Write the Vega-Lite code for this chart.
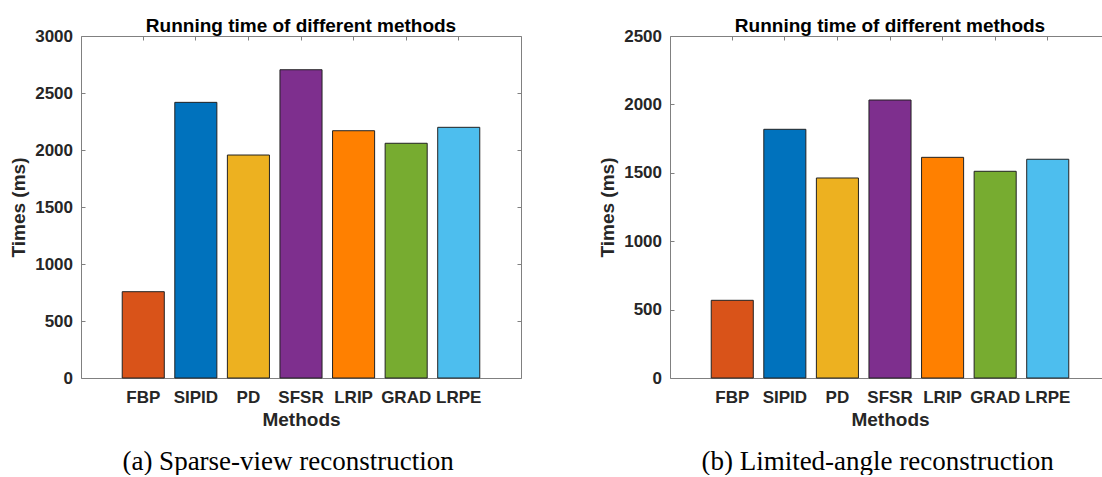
{
  "$schema": "https://vega.github.io/schema/vega-lite/v6.json",
  "padding": {"left": 9, "top": 17, "right": 0, "bottom": 0},
  "spacing": 76,
  "config": {
    "view": {"stroke": null},
    "axis": {
      "labelFont": "Liberation Sans", "labelFontSize": 17, "labelFontWeight": "bold", "labelColor": "#262626",
      "titleFont": "Liberation Sans", "titleFontSize": 19, "titleFontWeight": "bold", "titleColor": "#262626",
      "domainColor": "#808080", "tickColor": "#808080", "grid": false, "tickSize": -4
    },
    "title": {"font": "Liberation Sans", "fontSize": 19, "fontWeight": "bold", "color": "#000000"}
  },
  "hconcat": [
    {
      "title": {"text": "(a) Sparse-view reconstruction", "orient": "bottom", "anchor": "middle", "frame": "bounds", "font": "Liberation Serif", "fontSize": 27, "fontWeight": "normal", "color": "#000000", "offset": 20, "dx": 22.5},
      "vconcat": [
        {
          "width": 440, "height": 342,
          "title": {"text": "Running time of different methods", "offset": -9, "anchor": "middle", "frame": "group"},
          "data": {"values": [
            {"method": "FBP", "time": 757},
            {"method": "SIPID", "time": 2418},
            {"method": "PD", "time": 1956},
            {"method": "SFSR", "time": 2704},
            {"method": "LRIP", "time": 2169},
            {"method": "GRAD", "time": 2059},
            {"method": "LRPE", "time": 2199}
          ]},
          "layer": [
            {
              "mark": {"type": "bar", "stroke": "#222222", "strokeWidth": 1},
              "encoding": {
                "x": {"field": "method", "type": "nominal", "sort": null, "scale": {"paddingInner": 0.2, "paddingOuter": 0.784},
                      "axis": {"orient": "bottom", "title": "Methods", "labelAngle": 0, "labelPadding": 15.5, "titlePadding": 4.5}},
                "y": {"field": "time", "type": "quantitative", "scale": {"domain": [0, 3000], "nice": false},
                      "axis": {"orient": "left", "title": "Times (ms)", "format": "d", "values": [0, 500, 1000, 1500, 2000, 2500, 3000], "labelPadding": 12.5, "titlePadding": 6}},
                "color": {"field": "method", "type": "nominal", "legend": null,
                          "scale": {"domain": ["FBP", "SIPID", "PD", "SFSR", "LRIP", "GRAD", "LRPE"],
                                    "range": ["#D95319", "#0072BD", "#EDB120", "#7E2F8E", "#FF8000", "#77AC30", "#4DBEEE"]}}
              }
            },
            {
              "mark": {"type": "bar", "opacity": 0},
              "encoding": {
                "x": {"field": "method", "type": "nominal", "sort": null, "axis": {"orient": "top", "title": null, "labels": false}},
                "y": {"field": "time", "type": "quantitative", "axis": {"orient": "right", "title": null, "labels": false, "values": [0, 500, 1000, 1500, 2000, 2500, 3000]}}
              }
            }
          ],
          "resolve": {"axis": {"x": "independent", "y": "independent"}}
        }
      ]
    },
    {
      "title": {"text": "(b) Limited-angle reconstruction", "orient": "bottom", "anchor": "middle", "frame": "bounds", "font": "Liberation Serif", "fontSize": 27, "fontWeight": "normal", "color": "#000000", "offset": 20, "dx": 23},
      "vconcat": [
        {
          "width": 440, "height": 342,
          "title": {"text": "Running time of different methods", "offset": -9, "anchor": "middle", "frame": "group"},
          "data": {"values": [
            {"method": "FBP", "time": 568},
            {"method": "SIPID", "time": 1818},
            {"method": "PD", "time": 1462},
            {"method": "SFSR", "time": 2032},
            {"method": "LRIP", "time": 1613},
            {"method": "GRAD", "time": 1511},
            {"method": "LRPE", "time": 1599}
          ]},
          "layer": [
            {
              "mark": {"type": "bar", "stroke": "#222222", "strokeWidth": 1},
              "encoding": {
                "x": {"field": "method", "type": "nominal", "sort": null, "scale": {"paddingInner": 0.2, "paddingOuter": 0.784},
                      "axis": {"orient": "bottom", "title": "Methods", "labelAngle": 0, "labelPadding": 15.5, "titlePadding": 4.5}},
                "y": {"field": "time", "type": "quantitative", "scale": {"domain": [0, 2500], "nice": false},
                      "axis": {"orient": "left", "title": "Times (ms)", "format": "d", "values": [0, 500, 1000, 1500, 2000, 2500], "labelPadding": 12.5, "titlePadding": 6}},
                "color": {"field": "method", "type": "nominal", "legend": null,
                          "scale": {"domain": ["FBP", "SIPID", "PD", "SFSR", "LRIP", "GRAD", "LRPE"],
                                    "range": ["#D95319", "#0072BD", "#EDB120", "#7E2F8E", "#FF8000", "#77AC30", "#4DBEEE"]}}
              }
            },
            {
              "mark": {"type": "bar", "opacity": 0},
              "encoding": {
                "x": {"field": "method", "type": "nominal", "sort": null, "axis": {"orient": "top", "title": null, "labels": false}},
                "y": {"field": "time", "type": "quantitative", "axis": {"orient": "right", "title": null, "labels": false, "values": [0, 500, 1000, 1500, 2000, 2500]}}
              }
            }
          ],
          "resolve": {"axis": {"x": "independent", "y": "independent"}}
        }
      ]
    }
  ]
}
